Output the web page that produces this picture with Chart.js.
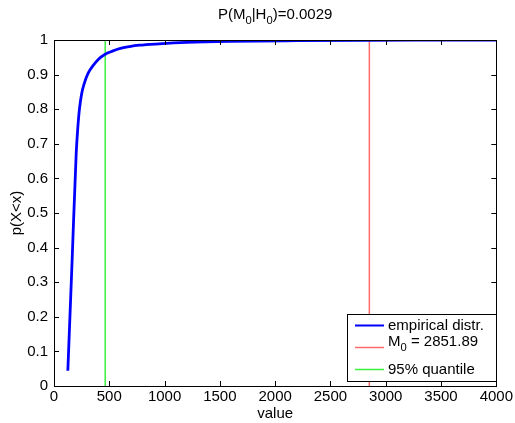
<!DOCTYPE html>
<html>
<head>
<meta charset="utf-8">
<script src="https://cdn.jsdelivr.net/npm/chart.js@4.4.1/dist/chart.umd.min.js"></script>
<style>
  html, body { margin: 0; padding: 0; background: #fff; }
  #wrap { width: 515px; height: 423px; }
</style>
</head>
<body>
<div id="wrap"><canvas id="cdf"></canvas></div>
<script>
const cdfValues = [125, 164, 201, 215, 230, 250, 276, 310, 351, 400, 463, 530, 592, 683, 773, 950, 1200, 1587, 2200, 2789, 3400, 4000];
const cdfProbs  = [0.044, 0.364, 0.674, 0.745, 0.80, 0.845, 0.877, 0.905, 0.925, 0.944, 0.959, 0.968, 0.975, 0.981, 0.985, 0.989, 0.993, 0.996, 0.998, 0.999, 0.9995, 1.0];
const m0 = 2851.89;
const q95 = 463;
const xTicks = [0, 500, 1000, 1500, 2000, 2500, 3000, 3500, 4000];
const yTicks = [0, 0.1, 0.2, 0.3, 0.4, 0.5, 0.6, 0.7, 0.8, 0.9, 1];
const legendLabels = ['empirical distr.', 'M0 = 2851.89', '95% quantile'];

const FONT = '"Liberation Sans", Arial, Helvetica, sans-serif';
const FS = 15;
const RED = '#ff6b6b';
const GREEN = '#3cf03c';

// tekst met subscript-0 tekenen
function drawSub(ctx, parts, x, y, size) {
    let cx = x;
    parts.forEach(p => {
        if (p.sub) {
            ctx.font = (size * 0.75) + 'px ' + FONT;
            ctx.fillText(p.t, cx, y + size * 0.35);
        } else {
            ctx.font = size + 'px ' + FONT;
            ctx.fillText(p.t, cx, y);
        }
        cx += ctx.measureText(p.t).width;
    });
    return cx - x;
}
function measureSub(ctx, parts, size) {
    let w = 0;
    parts.forEach(p => {
        ctx.font = (p.sub ? size * 0.75 : size) + 'px ' + FONT;
        w += ctx.measureText(p.t).width;
    });
    return w;
}

const matlabDeco = {
    id: 'matlabDeco',
    afterDraw(chart) {
        const ctx = chart.ctx;
        const a = chart.chartArea;
        const xs = chart.scales.x, ys = chart.scales.y;
        ctx.save();
        ctx.strokeStyle = '#000';
        ctx.lineWidth = 1;
        // kader
        ctx.strokeRect(Math.round(a.left) + 0.5, Math.round(a.top) + 0.5, Math.round(a.right - a.left), Math.round(a.bottom - a.top));
        // ticks naar binnen
        ctx.beginPath();
        xTicks.forEach(v => {
            const px = Math.round(xs.getPixelForValue(v)) + 0.5;
            ctx.moveTo(px, a.bottom); ctx.lineTo(px, a.bottom - 5);
            ctx.moveTo(px, a.top); ctx.lineTo(px, a.top + 5);
        });
        yTicks.forEach(v => {
            const py = Math.round(ys.getPixelForValue(v)) + 0.5;
            ctx.moveTo(a.left, py); ctx.lineTo(a.left + 5, py);
            ctx.moveTo(a.right, py); ctx.lineTo(a.right - 5, py);
        });
        ctx.stroke();

        // titel
        ctx.fillStyle = '#000';
        ctx.textBaseline = 'alphabetic';
        ctx.textAlign = 'left';
        const title = [{t: 'P(M'}, {t: '0', sub: true}, {t: '|H'}, {t: '0', sub: true}, {t: ')=0.0029'}];
        const tw = measureSub(ctx, title, FS);
        drawSub(ctx, title, (a.left + a.right) / 2 - tw / 2, 19, FS);

        // legenda
        const bx = 347.5, by = 314.5, bw = 149, bh = 67;
        ctx.fillStyle = '#fff';
        ctx.fillRect(bx, by, bw, bh);
        ctx.strokeStyle = '#000';
        ctx.lineWidth = 1;
        ctx.strokeRect(bx, by, bw, bh);
        const rows = [
            {color: '#0000ff', w: 2, y: 325, parts: [{t: legendLabels[0]}]},
            {color: RED, w: 1.5, y: 347, parts: [{t: 'M'}, {t: '0', sub: true}, {t: legendLabels[1].slice(2)}], ty: 341},
            {color: GREEN, w: 1.5, y: 369, parts: [{t: legendLabels[2]}]}
        ];
        rows.forEach(r => {
            ctx.strokeStyle = r.color;
            ctx.lineWidth = r.w;
            ctx.beginPath();
            ctx.moveTo(355, r.y + 0.5); ctx.lineTo(384, r.y + 0.5);
            ctx.stroke();
            ctx.fillStyle = '#000';
            drawSub(ctx, r.parts, 388, (r.ty || r.y) + 5, FS);
        });
        ctx.restore();
    }
};

const ctx = document.getElementById('cdf').getContext('2d');
const chart = new Chart(ctx, {
    type: 'line',
    data: {
        datasets: [{
            label: legendLabels[0],
            data: cdfValues.map((v, i) => ({x: v, y: cdfProbs[i]})),
            borderColor: '#0000ff',
            borderWidth: 2.8,
            pointRadius: 0,
            cubicInterpolationMode: 'monotone',
            fill: false
        }, {
            label: legendLabels[1],
            data: [{x: m0, y: 0}, {x: m0, y: 1}],
            borderColor: RED,
            borderWidth: 1.5,
            pointRadius: 0
        }, {
            label: legendLabels[2],
            data: [{x: q95, y: 0}, {x: q95, y: 1}],
            borderColor: GREEN,
            borderWidth: 1.5,
            pointRadius: 0
        }]
    },
    options: {
        responsive: true,
        maintainAspectRatio: false,
        animation: false,
        layout: { padding: { top: 40, right: 18, left: 8, bottom: 0 } },
        plugins: {
            legend: { display: false },
            tooltip: { enabled: false }
        },
        scales: {
            x: {
                type: 'linear',
                min: 0, max: 4000,
                afterBuildTicks: s => { s.ticks = xTicks.map(v => ({value: v})); },
                afterFit: s => { s.height = 37; },
                grid: { display: false, drawTicks: false },
                border: { display: false },
                ticks: { color: '#000', font: { family: FONT, size: FS }, padding: 2, maxRotation: 0, autoSkip: false,
                         callback: v => String(v) },
                title: { display: true, text: 'value', color: '#000', font: { family: FONT, size: FS }, padding: 0 }
            },
            y: {
                type: 'linear',
                min: 0, max: 1,
                afterBuildTicks: s => { s.ticks = yTicks.map(v => ({value: v})); },
                afterFit: s => { s.width = 46; },
                grid: { display: false, drawTicks: false },
                border: { display: false },
                ticks: { color: '#000', font: { family: FONT, size: FS }, padding: 6, autoSkip: false,
                         callback: v => String(v) },
                title: { display: true, text: 'p(X<x)', color: '#000', font: { family: FONT, size: FS }, padding: 0 }
            }
        }
    },
    plugins: [matlabDeco]
});
</script>
</body>
</html>
